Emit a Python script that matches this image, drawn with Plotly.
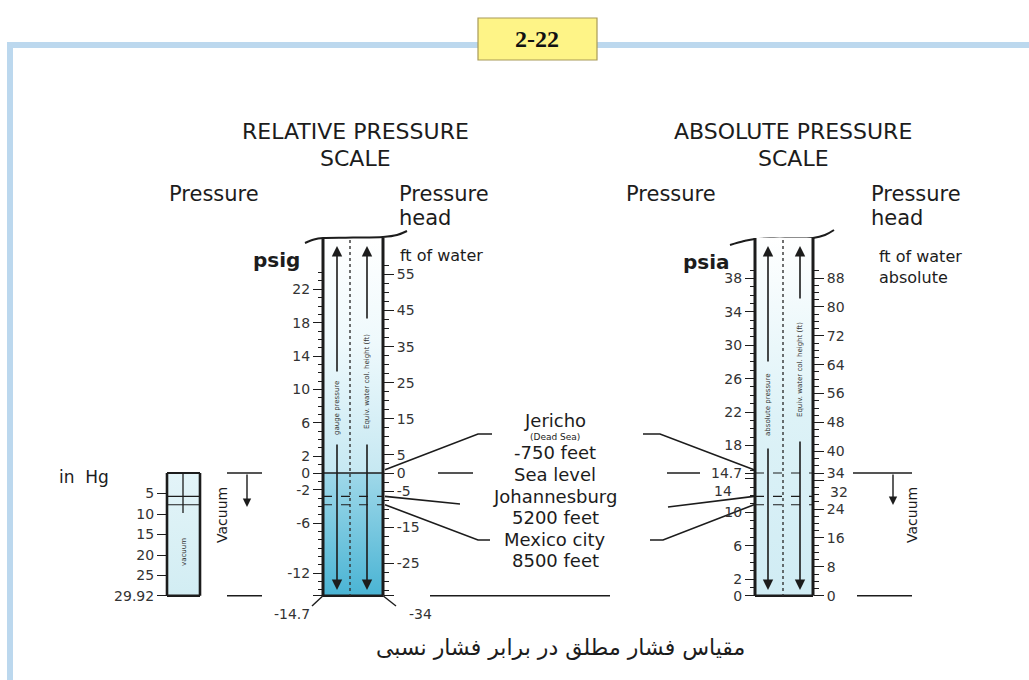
import plotly.graph_objects as go

# ------------------------------------------------------------------ data
psig_ticks = [22, 18, 14, 10, 6, 2, 0, -2, -6, -12]
psig_end = -14.7
ftg_ticks = [55, 45, 35, 25, 15, 5, 0, -5, -15, -25]
ftg_end = -34
psia_ticks = [38, 34, 30, 26, 22, 18, 14.7, 14, 10, 6, 2, 0]
fta_ticks = [88, 80, 72, 64, 56, 48, 40, 34, 32, 24, 16, 8, 0]
inhg_ticks = [5, 10, 15, 20, 25, 29.92]
# tick labels that the figure nudges downward to clear the 14.7 psia line
psia_nudged = [14]
fta_nudged = [32]

places = ["Jericho", "Sea level", "Johannesburg", "Mexico city"]
place_note = ["(Dead Sea)", "", "", ""]
place_elev = ["-750 feet", "", "5200 feet", "8500 feet"]
place_psia = [15.1, 14.7, 11.9, 10.9]

ATM_PSIA = 14.7
ATM_FT = 34.0
ATM_INHG = 29.92

title_rel = ["RELATIVE PRESSURE", "SCALE"]
title_abs = ["ABSOLUTE PRESSURE", "SCALE"]
caption = "مقیاس فشار مطلق در برابر فشار نسبی"
fig_no = "2-22"

# ------------------------------------------------------------------ layout constants
W, H = 1029, 680
Y0, K = 473.0, 8.35          # pixel row of 0 psig, pixels per psi
FT = ATM_FT / ATM_PSIA
HG = ATM_INHG / ATM_PSIA
FONT = "DejaVu Sans"
INK = "#1c1c1c"
TICKFONT = 14


def g(p):
    """pixel row -> psig"""
    return (Y0 - p) / K


def fx(x):
    return x / W


def fy(p):
    return 1 - p / H


TOP_G = g(238)
REL_L, REL_R = 323, 383
ABS_L, ABS_R = 755, 813
HG_L, HG_R = 167, 200

place_psig = [v - ATM_PSIA for v in place_psia]
place_hg = [(ATM_PSIA - v) * HG for v in place_psia]

fig = go.Figure()


def band(x0, x1, y0, y1, axis, colors):
    fig.add_trace(go.Scatter(
        x=[x0, x1, x1, x0, x0], y=[y0, y0, y1, y1, y0], yaxis=axis,
        mode="lines", line=dict(width=0), fill="toself",
        fillgradient=dict(type="vertical", colorscale=colors, start=y0, stop=y1),
        hoverinfo="skip", showlegend=False))


def seg(x0, y0, x1, y1, yref="y", width=1.6, dash="solid", color=INK):
    fig.add_shape(type="line", xref="x", yref=yref, x0=x0, y0=y0, x1=x1, y1=y1,
                  line=dict(color=color, width=width, dash=dash))


def poly(xs, ys, yref="y", width=1.6, shape="linear"):
    fig.add_trace(go.Scatter(x=xs, y=ys, yaxis=yref, mode="lines",
                             line=dict(color=INK, width=width, shape=shape),
                             hoverinfo="skip", showlegend=False))


def text(x, y, t, size, anchor="center", bold=False, family=FONT, angle=0, color=INK):
    if bold:
        t = "<b>" + t + "</b>"
    fig.add_annotation(x=fx(x), y=fy(y), xref="paper", yref="paper", text=t,
                       showarrow=False, xanchor=anchor, yanchor="middle", borderpad=0,
                       textangle=angle, font=dict(family=family, size=size, color=color))


def arrow(x, head_px, tail_px, width=1.6, size=1.3):
    fig.add_annotation(x=x, y=g(head_px), ax=x, ay=g(tail_px), xref="x", yref="y",
                       axref="x", ayref="y", showarrow=True, arrowhead=2,
                       arrowsize=size, arrowwidth=width, arrowcolor=INK, text="",
                       standoff=0, startstandoff=0)


# ---- tube fills
band(REL_L, REL_R, psig_end, 0, "y", [[0, "#4ab4d4"], [1, "#9fd8e9"]])
band(REL_L, REL_R, 0, TOP_G, "y", [[0, "#c6e8f2"], [0.55, "#eef9fc"], [1, "#ffffff"]])
band(ABS_L, ABS_R, 0, TOP_G + ATM_PSIA, "y3", [[0, "#d0ecf4"], [0.5, "#ddf2f7"], [1, "#ffffff"]])
band(HG_L, HG_R, ATM_INHG, 0, "y5", [[0, "#d2edf3"], [1, "#e3f4f8"]])
for ax in ["y2", "y4"]:
    fig.add_trace(go.Scatter(x=[None], y=[None], yaxis=ax, showlegend=False, hoverinfo="skip"))

# ---- tube outlines
seg(REL_L, psig_end, REL_L, TOP_G, "y", 3)
seg(REL_R, psig_end, REL_R, TOP_G, "y", 3)
seg(REL_L, psig_end, REL_R, psig_end, "y", 2.5)
seg(ABS_L, 0, ABS_L, TOP_G + ATM_PSIA, "y3", 3)
seg(ABS_R, 0, ABS_R, TOP_G + ATM_PSIA, "y3", 3)
seg(ABS_L, 0, ABS_R, 0, "y3", 2.5)
seg(HG_L, ATM_INHG, HG_L, 0, "y5", 2.6)
seg(HG_R, ATM_INHG, HG_R, 0, "y5", 2.6)
seg(HG_L, ATM_INHG, HG_R, ATM_INHG, "y5", 2.4)
seg(HG_L, 0, HG_R, 0, "y5", 2.2)

# ---- break curves at tube tops
poly([305, 314, 323, 353, 383, 397, 407], [g(p) for p in [243, 239.5, 238, 237.6, 237, 235, 231]], width=2, shape="spline")
poly([730, 744, 755, 785, 813, 825, 834], [g(p) for p in [245, 241, 239, 238.6, 238, 235, 230]], width=2, shape="spline")

# ---- dotted centre lines
seg(350, g(240), 350, psig_end, "y", 1.4, "dot", "#333")
seg(783, g(240), 783, psig_end, "y", 1.4, "dot", "#333")
seg(183, 0, 183, (g(513) * -1) * HG, "y5", 1.3)

# ---- in-tube level lines
seg(REL_L, 0, REL_R, 0, "y", 1.6)
for i in [2, 3]:
    seg(REL_L, place_psig[i], REL_R, place_psig[i], "y", 1.2, "dash")
    seg(HG_L, place_hg[i], HG_R, place_hg[i], "y5", 1.2)
for i in [1, 2, 3]:
    seg(ABS_L, place_psia[i], ABS_R, place_psia[i], "y3", 1.2, "dash")

# ---- arrows inside tubes
arrow(337, 246, 373)
arrow(337, 590, 443)
arrow(367, 246, 320)
arrow(367, 590, 443)
arrow(768, 246, 363)
arrow(768, 590, 447)
arrow(800, 246, 300)
arrow(800, 590, 440)
text(337, 408, "gauge pressure", 7, angle=-90, color="#333")
text(367, 382, "Equiv. water col. height (ft)", 7, angle=-90, color="#333")
text(768, 405, "absolute pressure", 7, angle=-90, color="#333")
text(800, 370, "Equiv. water col. height (ft)", 7, angle=-90, color="#333")
text(184, 552, "vacuum", 7, angle=-90, color="#333")

# ---- callouts to the places
poly([REL_R + 2, 478, 492], [place_psig[0], g(434), g(434)])
poly([643, 660, ABS_L - 1], [g(434), g(434), place_psig[0]])
seg(438, place_psig[1], 473, place_psig[1], "y", 1.6)
seg(667, place_psia[1], 700, place_psia[1], "y3", 1.6)
poly([REL_R + 2, 460], [place_psig[2], g(504)])
poly([668, ABS_L - 1], [g(507), place_psig[2]])
poly([REL_R + 2, 478, 490], [place_psig[3], g(540), g(540)])
poly([650, 663, ABS_L - 1], [g(540), g(540), place_psig[3]])

label_rows = [(420, 436.5, 452.5), (474, None, None), (496, None, 517.5), (539.5, None, 560.5)]
for name, note, elev, (r1, r2, r3) in zip(places, place_note, place_elev, label_rows):
    text(555, r1, name, 18)
    if note:
        text(555, r2, note, 9)
    if elev:
        text(555, r3, elev, 18)

# ---- vacuum markers
seg(227, 0, 262, 0, "y", 1.6)
seg(227, psig_end, 262, psig_end, "y", 1.6)
arrow(247, 507, Y0, 1.4, 1.2)
text(222, 515, "Vacuum", 14, angle=-90)
seg(853, ATM_PSIA, 912, ATM_PSIA, "y3", 1.6)
seg(857, 0, 912, 0, "y3", 1.6)
arrow(893, 505, Y0, 1.4, 1.2)
text(912, 515, "Vacuum", 14, angle=-90)

# ---- bottom end labels of relative scale
seg(430, psig_end, 610, psig_end, "y", 1.6)
seg(REL_L, psig_end, 312, g(606), "y", 1.4)
seg(REL_R, psig_end, 396, g(606), "y", 1.4)
text(292, 614, str(psig_end), TICKFONT, color="#333")
text(420, 614, str(ftg_end), TICKFONT, color="#333")

# ---- nudged tick labels near the 14.7 psia line
for v in psia_nudged:
    text(733, 491, str(v), TICKFONT, anchor="right", color="#333")
for v in fta_nudged:
    text(829, 492, str(v), TICKFONT, anchor="left", color="#333")

# ---- headings
text(355, 132, title_rel[0], 22)
text(355, 158, title_rel[1], 22)
text(793, 132, title_abs[0], 22)
text(793, 158, title_abs[1], 22)
text(168, 194, "Pressure", 21, anchor="left")
text(398, 194, "Pressure", 21, anchor="left")
text(398, 218, "head", 21, anchor="left")
text(625, 194, "Pressure", 21, anchor="left")
text(870, 194, "Pressure", 21, anchor="left")
text(870, 218, "head", 21, anchor="left")
text(301, 260, "psig", 20, anchor="right", bold=True)
text(731, 262, "psia", 20, anchor="right", bold=True)
text(399, 255, "ft of water", 16, anchor="left")
text(878, 256, "ft of water", 16, anchor="left")
text(878, 277, "absolute", 16, anchor="left")
text(58, 477, "in  Hg", 17, anchor="left")
text(560, 648, caption, 22)

# ---- frame and figure number
fig.add_shape(type="line", xref="paper", yref="paper", x0=fx(9), x1=1.0, y0=fy(45), y1=fy(45),
              line=dict(color="#bcd8ee", width=6))
fig.add_shape(type="line", xref="paper", yref="paper", x0=fx(10), x1=fx(10), y0=fy(42), y1=0,
              line=dict(color="#bcd8ee", width=6))
fig.add_shape(type="rect", xref="paper", yref="paper", x0=fx(478), x1=fx(597), y0=fy(60), y1=fy(18),
              fillcolor="#fef487", line=dict(color="#a89a58", width=1.2))
text(537, 39, fig_no, 24, bold=True, family="Liberation Serif", color="#111")


# ------------------------------------------------------------------ axes
def fmt(v):
    return str(int(v)) if float(v).is_integer() else str(v)


def labels(vals, hidden):
    return ["" if v in hidden else fmt(v) for v in vals]


r_g = [g(H), g(0)]
common = dict(showgrid=False, zeroline=False, showline=False, ticks="outside", ticklen=10,
              tickwidth=1.4, tickcolor=INK, tickmode="array", fixedrange=True,
              automargin=False, domain=[0, 1], anchor="free",
              tickfont=dict(family=FONT, size=TICKFONT, color="#333"))
minor_c = dict(ticks="outside", ticklen=5, tickwidth=1.2, tickcolor=INK, tickmode="array")

psig_minor = [v for v in range(-14, 25) if v not in psig_ticks]
ftg_minor = [v * 2.5 for v in range(-13, 24) if v * 2.5 not in ftg_ticks]
psia_minor = [v for v in range(1, 40) if v not in psia_ticks]
fta_minor = [v for v in range(2, 91, 2) if v not in fta_ticks]

fig.update_layout(
    width=W, height=H, margin=dict(l=0, r=0, t=0, b=0),
    template="none", showlegend=False,
    paper_bgcolor="white", plot_bgcolor="rgba(0,0,0,0)",
    xaxis=dict(range=[0, W], visible=False, fixedrange=True, domain=[0, 1]),
    yaxis=dict(common, range=r_g, side="left", position=fx(REL_L),
               tickvals=psig_ticks + [psig_end], ticktext=labels(psig_ticks, []) + [""],
               minor=dict(minor_c, tickvals=psig_minor)),
    yaxis2=dict(common, overlaying="y", range=[v * FT for v in r_g], side="right",
                position=fx(REL_R), tickvals=ftg_ticks + [ftg_end],
                ticktext=labels(ftg_ticks, []) + [""],
                minor=dict(minor_c, tickvals=ftg_minor)),
    yaxis3=dict(common, overlaying="y", range=[v + ATM_PSIA for v in r_g], side="left",
                position=fx(ABS_L), tickvals=psia_ticks, ticktext=labels(psia_ticks, psia_nudged),
                minor=dict(minor_c, tickvals=psia_minor)),
    yaxis4=dict(common, overlaying="y", range=[(v + ATM_PSIA) * FT for v in r_g], side="right",
                position=fx(ABS_R), tickvals=fta_ticks, ticktext=labels(fta_ticks, fta_nudged),
                minor=dict(minor_c, tickvals=fta_minor)),
    yaxis5=dict(common, overlaying="y", range=[-v * HG for v in r_g], side="left",
                position=fx(HG_L), tickvals=inhg_ticks, ticktext=labels(inhg_ticks, [])),
)

fig.write_html("out.html", config={"displayModeBar": False},
               post_script="document.body.style.margin='0px';")
